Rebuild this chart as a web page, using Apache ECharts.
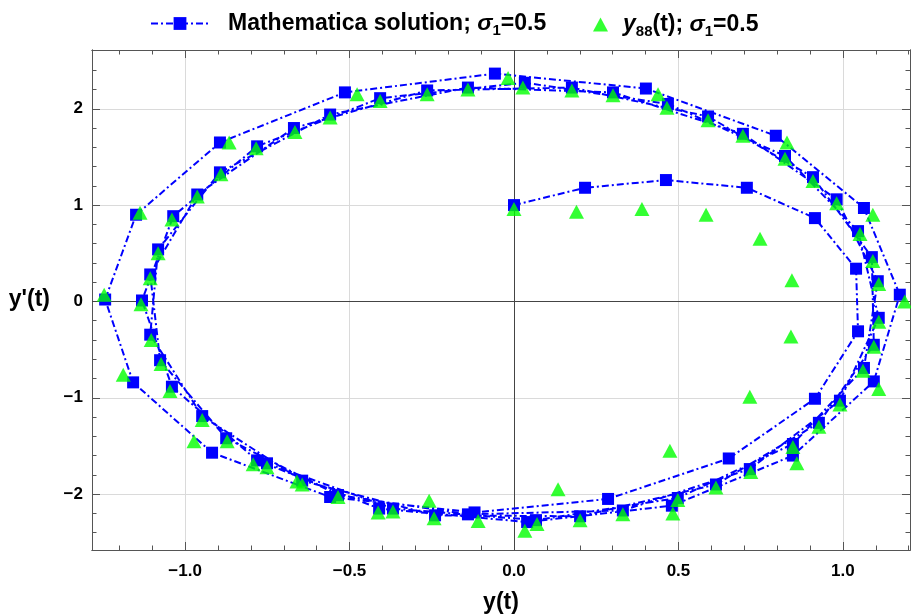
<!DOCTYPE html>
<html>
<head>
<meta charset="utf-8">
<title>Phase portrait</title>
<script src="https://cdn.jsdelivr.net/npm/echarts@6/dist/echarts.min.js"></script>
<style>
  html, body { margin: 0; padding: 0; background: #fff; }
  #chart { width: 911px; height: 615px; }
</style>
</head>
<body>
<div id="chart"></div>
<script>
// Mathematica solution: y(t) and y'(t), one point per time step
const solY = [
  0, 0.216, 0.462, 0.708, 0.915, 1.04, 1.046, 0.915, 0.653, 0.286,
  -0.12, -0.559, -0.918, -1.158, -1.243, -1.149, -0.894, -0.514, -0.058, 0.401,
  0.796, 1.064, 1.173, 1.094, 0.848, 0.48, 0.04, -0.41, -0.781, -1.04,
  -1.131, -1.036, -0.781, -0.407, 0.033, 0.468, 0.824, 1.046, 1.109, 0.991,
  0.717, 0.331, -0.14, -0.535, -0.875, -1.076, -1.106, -0.963, -0.669, -0.264,
  0.176, 0.59, 0.909, 1.088, 1.094, 0.927, 0.614, 0.201, -0.24, -0.644,
  -0.948, -1.106, -1.082, -0.894, -0.559, -0.14, 0.301, 0.696, 0.981, 1.106,
  1.064, 0.848, 0.498, 0.067, -0.368, -0.751
]
const solDY = [
  1.0, 1.18, 1.26, 1.18, 0.865, 0.34, -0.31, -1.01, -1.63, -2.05,
  -2.19, -2.03, -1.57, -0.84, 0.02, 0.9, 1.65, 2.17, 2.365, 2.21,
  1.72, 0.97, 0.07, -0.83, -1.6, -2.12, -2.29, -2.15, -1.65, -0.885,
  0.01, 0.885, 1.61, 2.11, 2.27, 2.05, 1.51, 0.73, -0.17, -1.03,
  -1.74, -2.17, -2.21, -2.01, -1.42, -0.61, 0.28, 1.11, 1.8, 2.19,
  2.22, 1.92, 1.29, 0.46, -0.45, -1.26, -1.9, -2.23, -2.22, -1.86,
  -1.19, -0.345, 0.54, 1.34, 1.94, 2.22, 2.17, 1.74, 1.06, 0.21,
  -0.69, -1.48, -2.04, -2.27, -2.15, -1.68
]
// y88(t) approximation at the same time steps
const y88Y = [
  0, 0.19, 0.389, 0.584, 0.748, 0.845, 0.842, 0.717, 0.474, 0.134,
  -0.258, -0.66, -0.973, -1.188, -1.246, -1.137, -0.866, -0.477, -0.018, 0.438,
  0.83, 1.091, 1.188, 1.109, 0.86, 0.483, 0.033, -0.413, -0.793, -1.046,
  -1.134, -1.04, -0.784, -0.407, 0.027, 0.465, 0.824, 1.052, 1.109, 0.991,
  0.72, 0.331, -0.109, -0.535, -0.872, -1.073, -1.106, -0.963, -0.666, -0.264,
  0.176, 0.59, 0.909, 1.091, 1.094, 0.927, 0.614, 0.201, -0.243, -0.644,
  -0.948, -1.103, -1.082, -0.891, -0.559, -0.14, 0.301, 0.696, 0.981, 1.109,
  1.061, 0.848, 0.498, 0.07, -0.368, -0.751
]
const y88DY = [
  0.96, 0.93, 0.96, 0.9, 0.65, 0.22, -0.365, -0.99, -1.55, -1.95,
  -2.07, -1.87, -1.45, -0.76, 0.07, 0.92, 1.65, 2.15, 2.32, 2.15,
  1.65, 0.9, 0.0, -0.91, -1.68, -2.2, -2.38, -2.19, -1.69, -0.93,
  -0.03, 0.85, 1.59, 2.08, 2.22, 2.01, 1.48, 0.7, -0.21, -1.07,
  -1.77, -2.21, -2.28, -2.03, -1.45, -0.65, 0.24, 1.09, 1.76, 2.15,
  2.19, 1.88, 1.25, 0.42, -0.47, -1.3, -1.93, -2.27, -2.25, -1.9,
  -1.23, -0.4, 0.5, 1.32, 1.91, 2.2, 2.14, 1.72, 1.02, 0.18,
  -0.72, -1.51, -2.06, -2.31, -2.18, -1.72
]

const xMajor = [-1, -0.5, 0, 0.5, 1]
const yMajor = [-2, -1, 0, 1, 2]
const xMinor = [-1.2, -1.1, -0.9, -0.8, -0.7, -0.6, -0.4, -0.3, -0.2, -0.1,
  0.1, 0.2, 0.3, 0.4, 0.6, 0.7, 0.8, 0.9, 1.1, 1.2]
const yMinor = [-2.4, -2.2, -1.8, -1.6, -1.4, -1.2, -0.8, -0.6, -0.4, -0.2,
  0.2, 0.4, 0.6, 0.8, 1.2, 1.4, 1.6, 1.8, 2.2, 2.4]

const X_MIN = -1.283, X_MAX = 1.204
const Y_MIN = -2.58, Y_MAX = 2.61

const NAME_SOL = 'Mathematica solution; σ1=0.5'
const NAME_Y88 = 'y88(t); σ1=0.5'

const FONT = '"Liberation Sans", Arial, sans-serif'
const FRAME = '#555'

const minus = s => s.replace('-', '\u2212')

// one frame side; the main axes also carry labels and grid lines
function frameAxis(pos, isY, ticks, len, main) {
  return {
    type: 'value',
    position: pos,
    min: isY ? Y_MIN : X_MIN,
    max: isY ? Y_MAX : X_MAX,
    splitNumber: 5,
    axisLine: { show: true, onZero: false, lineStyle: { color: FRAME, width: 1 } },
    axisTick: { show: true, inside: true, length: len, customValues: ticks, lineStyle: { color: FRAME, width: 1 } },
    axisLabel: main ? {
      show: true,
      customValues: isY ? yMajor : xMajor,
      margin: isY ? 9 : 13,
      color: '#000',
      fontFamily: FONT,
      fontWeight: 'bold',
      fontSize: 17,
      formatter: v => minus(isY ? String(Math.round(v)) : Number(v).toFixed(1)),
    } : { show: false },
    splitLine: { show: !!main, lineStyle: { color: '#dadada', width: 1 } },
    axisPointer: { show: false },
  }
}

const legendRich = {
  b: { fontFamily: FONT, fontWeight: 'bold', fontSize: 23, lineHeight: 30, color: '#000' },
  b0: { fontFamily: FONT, fontWeight: 'bold', fontSize: 23, lineHeight: 30, color: '#000', padding: [0, 0, 0, 14] },
  i: { fontFamily: FONT, fontWeight: 'bold', fontStyle: 'italic', fontSize: 23, lineHeight: 30, color: '#000' },
  i0: { fontFamily: FONT, fontWeight: 'bold', fontStyle: 'italic', fontSize: 23, lineHeight: 30, color: '#000', padding: [0, 0, 0, 10] },
  sub: { fontFamily: FONT, fontWeight: 'bold', fontSize: 15, lineHeight: 16, verticalAlign: 'bottom', color: '#000' },
}

const chart = echarts.init(document.getElementById('chart'))

const option = {
  animation: false,
  backgroundColor: '#fff',
  grid: { left: 92, right: 1, top: 50, bottom: 65, outerBoundsMode: 'none', containLabel: false },
  legend: [
    {
      data: [NAME_SOL],
      left: 150, top: 12,
      padding: 0,
      itemWidth: 58, itemHeight: 16,
      selectedMode: false,
      formatter: () => '{b0|Mathematica solution; }{i|σ}{sub|1}{b|=0.5}',
      textStyle: { rich: legendRich },
    },
    {
      data: [NAME_Y88],
      left: 593, top: 13,
      padding: 0,
      itemWidth: 15, itemHeight: 14,
      selectedMode: false,
      formatter: () => '{i0|y}{sub|88}{b|(t); }{i|σ}{sub|1}{b|=0.5}',
      textStyle: { rich: legendRich },
    },
  ],
  xAxis: [
    Object.assign(frameAxis('bottom', false, xMajor, 8, true), {
      name: 'y(t)',
      nameLocation: 'middle',
      nameGap: 41,
      nameTextStyle: { fontFamily: FONT, fontWeight: 'bold', fontSize: 23, color: '#000', verticalAlign: 'top' },
    }),
    frameAxis('bottom', false, xMinor, 4.5, false),
    frameAxis('top', false, xMajor, 8, false),
    frameAxis('top', false, xMinor, 4.5, false),
  ],
  yAxis: [
    Object.assign(frameAxis('left', true, yMajor, 8, true), {
      name: "y'(t)",
      nameLocation: 'middle',
      nameRotate: 0,
      nameGap: 42,
      nameTextStyle: { fontFamily: FONT, fontWeight: 'bold', fontSize: 23, color: '#000' },
    }),
    frameAxis('left', true, yMinor, 4.5, false),
    frameAxis('right', true, yMajor, 8, false),
    frameAxis('right', true, yMinor, 4.5, false),
  ],
  series: [
    {
      name: NAME_SOL,
      type: 'line',
      xAxisIndex: 0,
      yAxisIndex: 0,
      data: solY.map((v, i) => [v, solDY[i]]),
      symbol: 'rect',
      symbolSize: 12,
      showSymbol: true,
      showAllSymbol: true,
      itemStyle: { color: '#0000ff' },
      lineStyle: { color: '#0000ff', width: 2, type: [7, 3, 2, 3] },
      emphasis: { disabled: true },
      markLine: {
        silent: true,
        z: 1,
        symbol: ['none', 'none'],
        label: { show: false },
        lineStyle: { color: '#444', width: 1, type: 'solid' },
        emphasis: { disabled: true },
        data: [{ xAxis: 0 }, { yAxis: 0 }],
      },
    },
    {
      name: NAME_Y88,
      type: 'scatter',
      xAxisIndex: 0,
      yAxisIndex: 0,
      data: y88Y.map((v, i) => [v, y88DY[i]]),
      symbol: 'triangle',
      symbolSize: [15, 14],
      itemStyle: { color: '#00ff00' },
      emphasis: { disabled: true },
      z: 3,
    },
  ],
}

chart.setOption(option)
</script>
</body>
</html>
